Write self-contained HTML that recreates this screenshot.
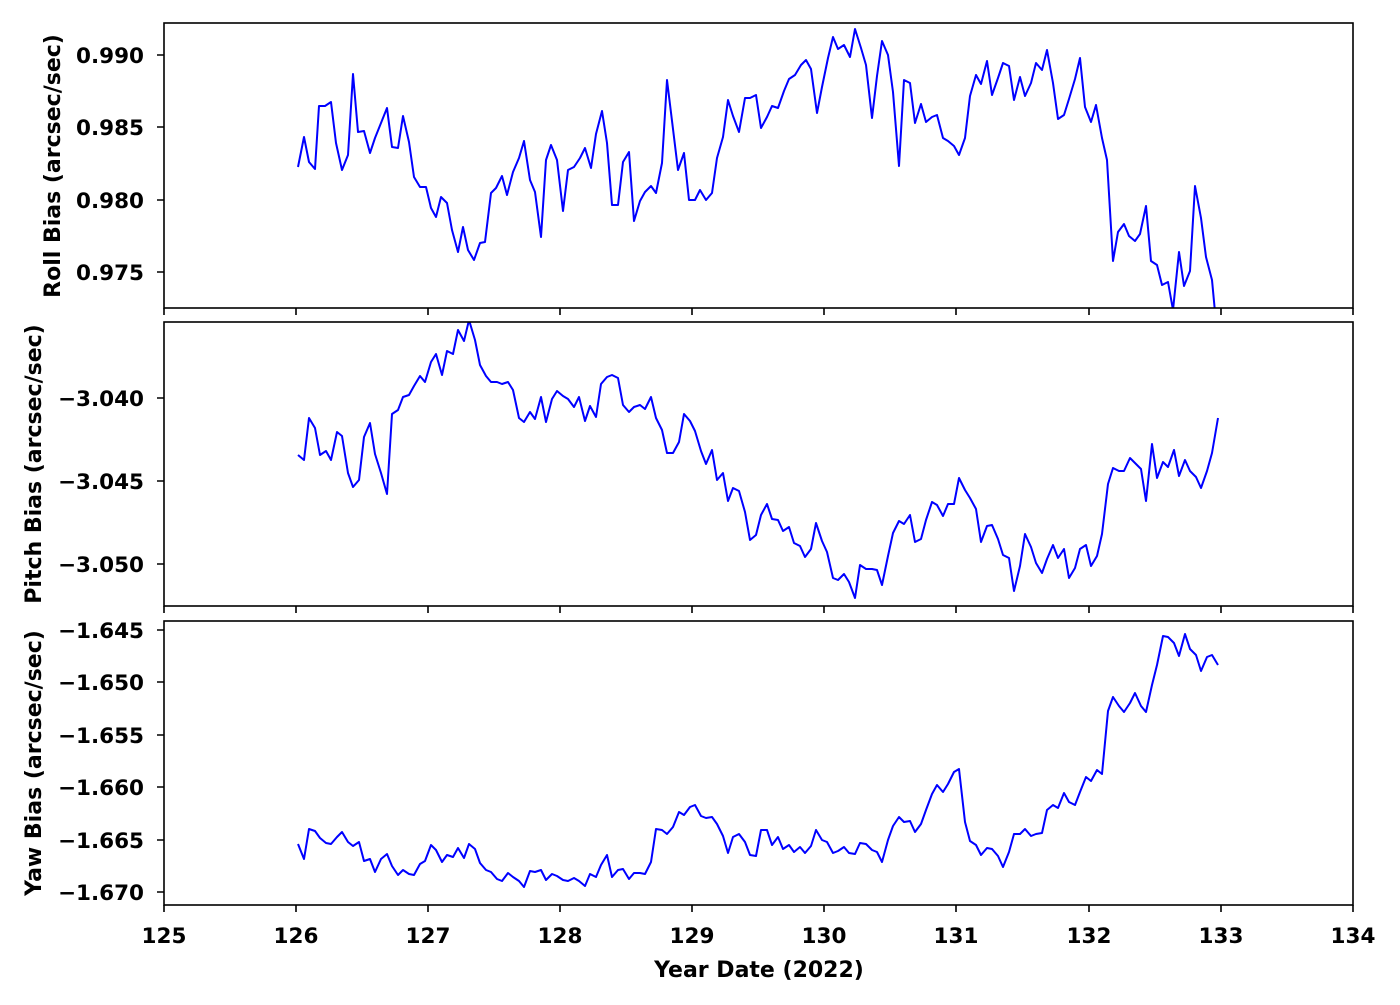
<!DOCTYPE html>
<html><head><meta charset="utf-8"><style>
body{margin:0;background:#fff}
text{font-family:"DejaVu Sans","Liberation Sans",sans-serif;font-weight:bold;font-size:21.5px;fill:#000}
.lab{font-size:22px}
</style></head><body>
<svg width="1400" height="1000" viewBox="0 0 1400 1000" xmlns="http://www.w3.org/2000/svg">
<defs>
<clipPath id="c1"><rect x="164" y="23" width="1189" height="285"/></clipPath>
<clipPath id="c2"><rect x="164" y="322" width="1189" height="284"/></clipPath>
<clipPath id="c3"><rect x="164" y="621" width="1189" height="284"/></clipPath>
</defs>
<g fill="none" stroke="#0000ff" stroke-width="2" stroke-linejoin="round">
<polyline clip-path="url(#c1)" points="298,167 304,137 309,162 315,169 319,106 325,106 331,102 336,143 342,170 348,155 353,74 358,132 364,131 370,153 375,138 381,123 387,108 392,147 398,148 403,116 409,142 414,177 420,187 426,187 431,208 436,217 441,197 447,203 452,230 458,252 463,227 468,250 474,260 480,243 485,242 491,193 496,188 502,176 507,195 513,172 519,158 524,141 530,180 535,192 541,237 546,160 551,145 557,160 563,211 568,170 574,167 580,158 585,148 591,168 596,134 602,111 607,143 612,205 618,205 623,162 629,152 634,221 640,201 645,192 651,186 656,193 662,163 667,80 673,129 678,170 684,153 689,200 695,200 700,190 706,200 712,193 717,158 723,137 728,100 733,116 739,132 745,98 750,98 756,95 761,128 767,117 772,106 778,108 784,91 789,79 795,75 801,65 806,60 811,69 817,113 822,87 828,58 833,37 838,49 844,45 850,57 855,29 861,48 866,65 872,118 877,76 882,41 888,55 893,92 899,166 904,80 910,83 915,123 921,104 926,122 932,117 937,115 943,138 948,141 954,146 959,155 965,138 970,96 976,75 981,84 987,61 992,95 998,78 1003,63 1009,66 1014,100 1020,77 1025,96 1031,83 1036,63 1042,70 1047,50 1053,83 1058,119 1064,115 1069,99 1075,79 1080,58 1085,107 1091,122 1096,105 1102,138 1107,160 1113,261 1118,232 1124,224 1129,236 1135,241 1140,234 1146,206 1151,261 1157,265 1162,285 1168,282 1173,310 1179,252 1184,286 1190,271 1195,186 1201,218 1206,257 1212,280 1215,312"/>
<polyline clip-path="url(#c2)" points="298,455 304,460 309,418 315,428 320,455 326,451 331,460 337,432 342,436 348,473 353,487 359,480 364,437 370,423 375,454 381,473 387,494 392,414 398,410 403,397 409,395 414,386 420,376 425,382 431,362 436,354 442,375 447,351 453,354 458,330 464,341 469,320 475,340 480,365 486,376 491,382 497,382 502,384 508,382 513,390 519,418 524,422 530,412 535,419 541,397 546,422 552,399 557,391 563,396 568,399 574,407 579,397 585,421 590,406 596,417 601,384 607,377 612,375 618,378 623,405 629,412 634,407 640,405 645,409 651,397 656,418 662,430 667,453 673,453 679,442 684,414 690,421 695,431 701,451 706,464 712,450 717,480 723,473 728,501 733,488 739,491 745,512 750,540 756,535 761,515 767,504 772,519 778,520 783,531 789,527 794,543 800,546 805,557 811,549 816,523 822,541 827,552 833,578 838,580 844,574 849,582 855,598 860,565 866,569 872,569 877,570 882,585 888,556 893,533 899,521 904,524 910,515 915,542 921,539 926,520 932,502 937,505 943,516 948,504 954,504 959,478 965,490 970,498 976,509 981,542 987,526 992,525 998,539 1003,555 1009,558 1014,591 1020,566 1025,534 1031,547 1036,563 1042,573 1047,559 1053,545 1058,558 1064,549 1069,578 1075,568 1080,549 1086,545 1091,566 1097,556 1102,534 1108,484 1113,468 1119,471 1124,471 1130,458 1135,463 1141,469 1146,501 1152,444 1157,478 1163,462 1168,467 1174,450 1179,476 1185,460 1190,471 1196,477 1201,488 1207,471 1212,453 1218,418"/>
<polyline clip-path="url(#c3)" points="298,844 304,859 309,829 315,831 320,838 326,843 331,844 337,837 342,832 348,842 353,846 359,842 364,861 370,859 375,872 381,859 387,854 392,866 398,875 403,870 409,874 414,875 420,864 425,861 431,845 436,850 442,862 447,855 453,857 458,848 464,858 469,844 475,849 480,863 486,870 491,872 497,879 502,881 508,873 513,877 519,881 524,887 530,871 535,872 541,870 546,880 552,874 557,876 563,880 568,881 574,878 579,881 585,886 590,874 596,877 601,865 607,855 612,877 618,870 623,869 629,879 634,873 640,873 645,874 651,862 656,829 662,830 667,834 673,827 679,812 684,815 690,807 695,805 701,816 706,818 712,817 717,824 723,836 728,853 733,837 739,834 745,842 750,855 756,856 761,830 767,830 772,845 778,837 783,849 789,845 794,852 800,847 805,853 811,846 816,830 822,840 827,842 833,853 838,851 844,847 849,853 855,854 860,843 866,844 872,850 877,852 882,862 888,840 893,826 899,817 904,822 910,821 915,832 921,824 926,810 932,794 937,785 943,792 948,784 954,772 959,769 965,822 970,841 976,845 981,855 987,848 992,849 998,856 1003,867 1009,852 1014,834 1020,834 1025,829 1031,836 1036,834 1042,833 1047,810 1053,805 1058,808 1064,793 1069,802 1075,805 1080,792 1086,777 1091,781 1097,770 1102,774 1108,711 1113,697 1119,706 1124,712 1130,703 1135,693 1141,706 1146,712 1152,685 1157,665 1163,636 1168,637 1174,643 1179,656 1185,634 1190,649 1196,655 1201,671 1207,657 1212,655 1218,665"/>
</g>
<g fill="none" stroke="#000" stroke-width="1.6">
<rect x="164" y="23" width="1189" height="285"/>
<rect x="164" y="322" width="1189" height="284"/>
<rect x="164" y="621" width="1189" height="284"/>
<path d="M164,308v7M296,308v7M428,308v7M560,308v7M692,308v7M824,308v7M956,308v7M1089,308v7M1221,308v7M1353,308v7
M164,606v7M296,606v7M428,606v7M560,606v7M692,606v7M824,606v7M956,606v7M1089,606v7M1221,606v7M1353,606v7
M164,905v7M296,905v7M428,905v7M560,905v7M692,905v7M824,905v7M956,905v7M1089,905v7M1221,905v7M1353,905v7
M164,55h-7M164,127h-7M164,200h-7M164,272h-7
M164,398h-7M164,481h-7M164,564h-7
M164,630h-7M164,682h-7M164,735h-7M164,787h-7M164,840h-7M164,892h-7"/>
</g>
<g text-anchor="end">
<text x="144" y="63">0.990</text><text x="144" y="135">0.985</text><text x="144" y="208">0.980</text><text x="144" y="280">0.975</text>
<text x="144" y="406">−3.040</text><text x="144" y="489">−3.045</text><text x="144" y="572">−3.050</text>
<text x="144" y="638">−1.645</text><text x="144" y="690">−1.650</text><text x="144" y="743">−1.655</text><text x="144" y="795">−1.660</text><text x="144" y="848">−1.665</text><text x="144" y="900">−1.670</text>
</g>
<g text-anchor="middle">
<text x="164" y="943">125</text><text x="296" y="943">126</text><text x="428" y="943">127</text><text x="560" y="943">128</text><text x="692" y="943">129</text><text x="824" y="943">130</text><text x="956" y="943">131</text><text x="1089" y="943">132</text><text x="1221" y="943">133</text><text x="1353" y="943">134</text>
<text class="lab" x="759" y="977">Year Date (2022)</text>
<text class="lab" transform="translate(60,166) rotate(-90)">Roll Bias (arcsec/sec)</text>
<text class="lab" transform="translate(41,464) rotate(-90)">Pitch Bias (arcsec/sec)</text>
<text class="lab" transform="translate(41,763) rotate(-90)">Yaw Bias (arcsec/sec)</text>
</g>
</svg>
</body></html>
